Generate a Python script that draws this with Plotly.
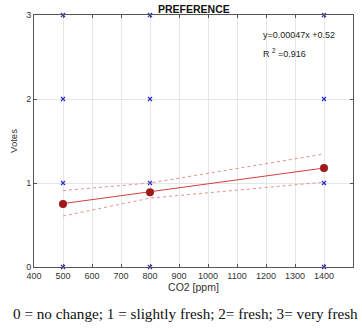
import plotly.graph_objects as go

co2_levels = [500, 800, 1400]
vote_levels = [0, 1, 2, 3]
mean_votes = [0.75, 0.89, 1.18]
ci_upper = [0.91, 1.0, 1.345]
ci_lower = [0.607, 0.82, 1.01]
fit_slope = 0.00047
fit_intercept = 0.52
x_ticks = [400, 500, 600, 700, 800, 900, 1000, 1100, 1200, 1300, 1400, 1500]
y_ticks = [0, 1, 2, 3]

scatter_x = [c for c in co2_levels for v in vote_levels]
scatter_y = [v for c in co2_levels for v in vote_levels]
fit_y = [fit_slope * c + fit_intercept for c in co2_levels]

fig = go.Figure()
fig.add_trace(go.Scatter(x=scatter_x, y=scatter_y, mode="markers",
                         marker=dict(symbol="x-thin", size=4, line=dict(color="#2b2bd6", width=1.2)),
                         cliponaxis=False, showlegend=False))
fig.add_trace(go.Scatter(x=co2_levels, y=ci_upper, mode="lines",
                         line=dict(color="#e49090", width=1, dash="dot"), showlegend=False))
fig.add_trace(go.Scatter(x=co2_levels, y=ci_lower, mode="lines",
                         line=dict(color="#e49090", width=1, dash="dot"), showlegend=False))
fig.add_trace(go.Scatter(x=co2_levels, y=fit_y, mode="lines",
                         line=dict(color="#d04040", width=1), showlegend=False))
fig.add_trace(go.Scatter(x=co2_levels, y=mean_votes, mode="markers",
                         marker=dict(color="#a01818", size=8), showlegend=False))

axis_common = dict(showgrid=True, gridcolor="#e6e6e6", gridwidth=1,
                   showline=True, linecolor="#555555", linewidth=1, mirror="allticks",
                   ticks="inside", ticklen=3, tickcolor="#555555",
                   tickfont=dict(family="Liberation Sans, Arial", size=9, color="#333333"),
                   zeroline=False)

fig.update_xaxes(range=[400, 1500], tickvals=x_ticks,
                 title=dict(text="CO2 [ppm]", font=dict(family="Liberation Sans, Arial", size=10.5, color="#333333"), standoff=1),
                 **axis_common)
fig.update_yaxes(range=[0, 3], tickvals=y_ticks,
                 title=dict(text="Votes", font=dict(family="Liberation Sans, Arial", size=9.5, color="#333333"), standoff=6),
                 **axis_common)

fig.add_annotation(text="<b>PREFERENCE</b>", x=0.5, y=1.0, xref="paper", yref="paper",
                   xanchor="center", yanchor="bottom", yshift=-2, showarrow=False,
                   font=dict(family="Liberation Sans, Arial", size=10.5, color="#111111"))
fig.add_annotation(text="y=0.00047x +0.52", x=1183, y=2.76, xanchor="left", yanchor="middle",
                   showarrow=False, font=dict(family="Liberation Sans, Arial", size=9, color="#222222"))
fig.add_annotation(text="R <sup>2</sup> =0.916", x=1183, y=2.55, xanchor="left", yanchor="middle",
                   showarrow=False, font=dict(family="Liberation Sans, Arial", size=9, color="#222222"))
fig.add_annotation(text="0 = no change; 1 = slightly fresh; 2= fresh; 3= very fresh",
                   x=0.5, y=0, xref="paper", yref="paper", xanchor="center", yanchor="middle",
                   yshift=-46, xshift=-8, showarrow=False,
                   font=dict(family="Liberation Serif, Times New Roman", size=15.2, color="#111111"))

fig.update_layout(width=362, height=328, margin=dict(l=34, r=9, t=15, b=61),
                  plot_bgcolor="white", paper_bgcolor="white")
fig.write_html("out.html")
